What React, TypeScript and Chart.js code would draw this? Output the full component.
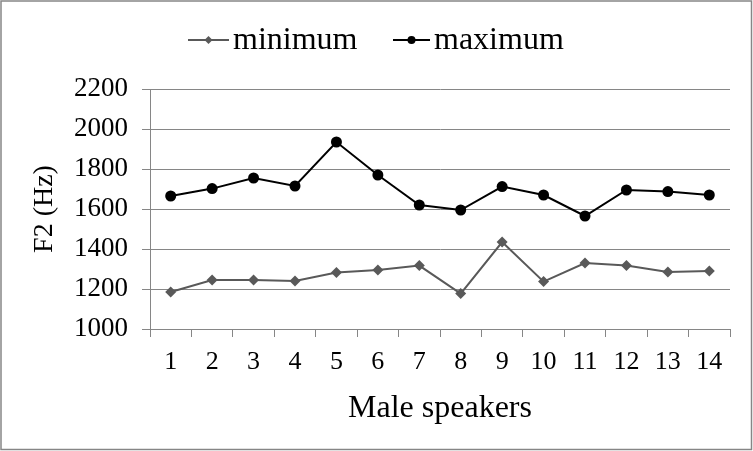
import React, { useEffect, useRef } from "react";
import { Chart, registerables } from "chart.js";

Chart.register(...registerables);

const categories = ["1", "2", "3", "4", "5", "6", "7", "8", "9", "10", "11", "12", "13", "14"];
const minimumValues = [1185, 1245, 1245, 1240, 1282, 1295, 1317, 1177, 1435, 1237, 1330, 1317, 1285, 1290];
const maximumValues = [1665, 1702, 1755, 1715, 1935, 1770, 1620, 1595, 1712, 1670, 1565, 1695, 1687, 1670];
const seriesNames = ["minimum", "maximum"];
const yTitle = "F2 (Hz)";
const xTitle = "Male speakers";

const FONT = "'Liberation Serif', 'Times New Roman', serif";
const GRID = "#868686";
const MIN_COLOR = "#595959";
const MAX_COLOR = "#000000";

const framePlugin = {
  id: "frameAndLegend",
  afterDraw(chart: any) {
    const ctx = chart.ctx;
    ctx.save();
    ctx.strokeStyle = GRID;
    ctx.lineWidth = 1.5;
    ctx.strokeRect(1, 1, chart.width - 2.5, chart.height - 2.5);

    const y = 40;
    const items = [
      { x0: 188, x1: 229, tx: 233, color: MIN_COLOR, style: "diamond", label: seriesNames[0] },
      { x0: 393, x1: 430, tx: 434, color: MAX_COLOR, style: "circle", label: seriesNames[1] },
    ];
    for (const it of items) {
      ctx.strokeStyle = it.color;
      ctx.fillStyle = it.color;
      ctx.lineWidth = 2;
      ctx.beginPath();
      ctx.moveTo(it.x0, y);
      ctx.lineTo(it.x1, y);
      ctx.stroke();
      const cx = (it.x0 + it.x1) / 2;
      ctx.beginPath();
      if (it.style === "circle") {
        ctx.arc(cx, y, 4, 0, Math.PI * 2);
      } else {
        ctx.moveTo(cx, y - 4);
        ctx.lineTo(cx + 4, y);
        ctx.lineTo(cx, y + 4);
        ctx.lineTo(cx - 4, y);
        ctx.closePath();
      }
      ctx.fill();
      ctx.fillStyle = "#000";
      ctx.font = `32px ${FONT}`;
      ctx.textAlign = "left";
      ctx.textBaseline = "middle";
      ctx.fillText(it.label, it.tx, y + 1);
    }
    ctx.restore();
  },
};

export default function App() {
  const ref = useRef<HTMLCanvasElement | null>(null);

  useEffect(() => {
    if (!ref.current) return;
    const chart = new Chart(ref.current, {
      type: "line",
      data: {
        labels: categories,
        datasets: [
          {
            label: seriesNames[0],
            data: minimumValues,
            borderColor: MIN_COLOR,
            backgroundColor: MIN_COLOR,
            borderWidth: 2,
            pointStyle: "rectRot",
            pointRadius: 5.5,
            pointBorderWidth: 0,
            tension: 0,
          },
          {
            label: seriesNames[1],
            data: maximumValues,
            borderColor: MAX_COLOR,
            backgroundColor: MAX_COLOR,
            borderWidth: 2,
            pointStyle: "circle",
            pointRadius: 5.5,
            pointBorderWidth: 0,
            tension: 0,
          },
        ],
      },
      options: {
        responsive: false,
        animation: false,
        devicePixelRatio: 1,
        layout: { padding: { top: 89, right: 23, left: 0, bottom: 0 } },
        plugins: {
          legend: { display: false },
          tooltip: { enabled: false },
        },
        scales: {
          x: {
            type: "category",
            offset: true,
            afterFit(scale: any) {
              scale.height = 122;
            },
            grid: {
              offset: true,
              drawOnChartArea: false,
              drawTicks: true,
              tickLength: 8,
              color: GRID,
              lineWidth: 1,
            },
            border: { display: true, color: GRID, width: 1 },
            ticks: {
              color: "#000",
              font: { family: FONT, size: 26 },
              padding: 10,
              maxRotation: 0,
              autoSkip: false,
            },
            title: {
              display: true,
              text: xTitle,
              color: "#000",
              font: { family: FONT, size: 32 },
              padding: { top: 0, bottom: 23 },
            },
          },
          y: {
            min: 1000,
            max: 2200,
            afterFit(scale: any) {
              scale.width = 150;
            },
            ticks: {
              stepSize: 200,
              color: "#000",
              font: { family: FONT, size: 27 },
              padding: 14,
              callback: (v: any) => String(v),
            },
            grid: {
              color: GRID,
              lineWidth: 1,
              tickLength: 8,
            },
            border: { display: true, color: GRID, width: 1 },
            title: {
              display: true,
              text: yTitle,
              color: "#000",
              font: { family: FONT, size: 28 },
              padding: { top: 28, bottom: 0 },
            },
          },
        },
      },
      plugins: [framePlugin],
    });
    return () => chart.destroy();
  }, []);

  return (
    <div style={{ position: "fixed", left: 0, top: 0, width: 753, height: 451, background: "#fff" }}>
      <canvas ref={ref} width={753} height={451} style={{ width: 753, height: 451, display: "block" }} />
    </div>
  );
}
